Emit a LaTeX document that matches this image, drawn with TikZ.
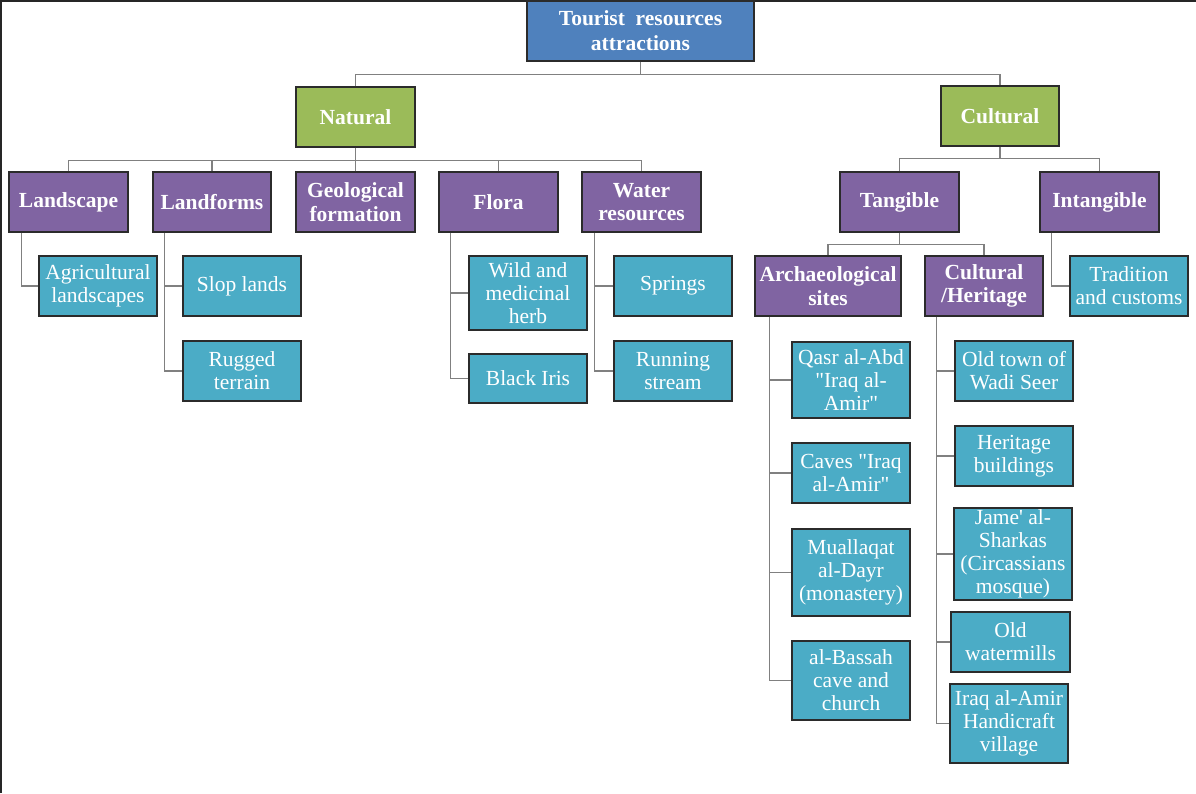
\documentclass[tikz,border=0pt]{standalone}
\usepackage{fontspec}
\setmainfont{LiberationSerif}[Extension=.ttf, UprightFont=*-Regular, BoldFont=*-Bold, ItalicFont=*-Italic, BoldItalicFont=*-BoldItalic]
\newfontfamily\plainfont{LiberationSerif}[Extension=.ttf, UprightFont=*-Regular, BoldFont=*-Bold]
\newcommand\dq{{\plainfont\char34}}
\newcommand\sq{{\plainfont\char39}}
\definecolor{cblue}{HTML}{4F81BD}
\definecolor{cgreen}{HTML}{9BBB59}
\definecolor{cpurple}{HTML}{8064A2}
\definecolor{cteal}{HTML}{4BACC6}
\definecolor{cborder}{HTML}{2B2B2B}
\definecolor{cline}{HTML}{808080}
\begin{document}
\begin{tikzpicture}[x=1pt,y=-1pt,
  box/.style={draw=cborder, line width=1.1pt, rectangle, inner sep=0pt, align=center, text=white,
    minimum width=118pt, minimum height=60pt, font=\fontsize{21.5}{23}\selectfont},
  bbox/.style={box, font=\fontsize{21.5}{23.5}\selectfont\bfseries},
  top/.style={bbox, fill=cblue, font=\fontsize{21.5}{25}\selectfont\bfseries},
  mid/.style={bbox, fill=cgreen},
  cat/.style={bbox, fill=cpurple},
  leaf/.style={box, fill=cteal},
  conn/.style={draw=cline, line width=1.2pt}
]
\path[use as bounding box] (0,0) rectangle (1196,793);
\draw[line width=2pt, draw=black!85] (1,793) -- (1,1) -- (1196,1);

% level 0-1
\node[top, minimum width=227pt] (root) at (640.5,31) {Tourist\ \ resources\\attractions};
\node[mid, minimum width=119pt] (nat) at (355.5,117) {Natural};
\node[mid] (cul) at (1000,116) {Cultural};

% natural categories
\node[cat, minimum width=119pt] (land) at (68.5,202) {Landscape};
\node[cat] (landf) at (212,202) {Landforms};
\node[cat, minimum width=119pt] (geo) at (355.5,202) {Geological\\formation};
\node[cat, minimum width=119pt] (flora) at (498.5,202) {Flora};
\node[cat, minimum width=119pt] (water) at (641.5,202) {Water\\resources};

% natural leaves
\node[leaf] (agri) at (98,286) {Agricultural\\landscapes};
\node[leaf] (slop) at (242,286) {Slop lands};
\node[leaf] (rug) at (242,371) {Rugged\\terrain};
\node[leaf, minimum height=74pt] (wild) at (528,293) {Wild and\\medicinal\\herb};
\node[leaf, minimum height=49pt] (iris) at (528,378.5) {Black Iris};
\node[leaf] (spr) at (673,286) {Springs};
\node[leaf] (run) at (673,371) {Running\\stream};

% cultural categories
\node[cat, minimum width=119pt] (tang) at (899.5,202) {Tangible};
\node[cat, minimum width=119pt] (intang) at (1099.5,202) {Intangible};
\node[cat, minimum width=146pt] (arch) at (828,286) {Archaeological\\sites};
\node[cat] (ch) at (984,286) {Cultural\\/Heritage};
\node[leaf] (trad) at (1129,286) {Tradition\\and customs};

% archaeological leaves
\node[leaf, minimum height=76pt] (qasr) at (851,380) {Qasr al-Abd\\\dq Iraq al-\\Amir\dq};
\node[leaf] (caves) at (851,473) {Caves \dq Iraq\\al-Amir\dq};
\node[leaf, minimum height=87pt] (mual) at (851,572.5) {Muallaqat\\al-Dayr\\(monastery)};
\node[leaf, minimum height=79pt] (bass) at (851,680.5) {al-Bassah\\cave and\\church};

% heritage leaves
\node[leaf] (old) at (1014,371) {Old town of\\Wadi Seer};
\node[leaf] (herit) at (1014,456) {Heritage\\buildings};
\node[leaf, minimum height=92pt] (jame) at (1013,554) {Jame\sq\ al-\\Sharkas\\(Circassians\\mosque)};
\node[leaf, minimum width=119pt] (mill) at (1010.5,642) {Old\\watermills};
\node[leaf, minimum height=79pt] (iraq) at (1009,723.5) {Iraq al-Amir\\Handicraft\\village};

% tree connectors
\draw[conn] (root.south) -- ++(0,13) coordinate (b0);
\draw[conn] (nat.north) |- (b0) -| (cul.north);
\draw[conn] (nat.south) -- ++(0,13) coordinate (b1);
\draw[conn] (land.north) |- (b1) -| (water.north);
\draw[conn] (landf.north) -- (landf.north |- b1);
\draw[conn] (geo.north) -- (b1);
\draw[conn] (flora.north) -- (flora.north |- b1);
\draw[conn] (cul.south) -- ++(0,12) coordinate (b2);
\draw[conn] (tang.north) |- (b2) -| (intang.north);
\draw[conn] (tang.south) -- ++(0,12) coordinate (b3);
\draw[conn] (arch.north) |- (b3) -| (ch.north);

% side connectors
\draw[conn] ([xshift=13pt]land.south west) |- (agri.west);
\draw[conn] ([xshift=12pt]landf.south west) |- (rug.west);
\draw[conn] ([xshift=12pt]landf.south west |- slop.west) -- (slop.west);
\draw[conn] ([xshift=12pt]flora.south west) |- (iris.west);
\draw[conn] ([xshift=12pt]flora.south west |- wild.west) -- (wild.west);
\draw[conn] ([xshift=13pt]water.south west) |- (run.west);
\draw[conn] ([xshift=13pt]water.south west |- spr.west) -- (spr.west);
\draw[conn] ([xshift=12pt]intang.south west) |- (trad.west);
\draw[conn] ([xshift=15pt]arch.south west) |- (bass.west);
\draw[conn] ([xshift=15pt]arch.south west |- qasr.west) -- (qasr.west);
\draw[conn] ([xshift=15pt]arch.south west |- caves.west) -- (caves.west);
\draw[conn] ([xshift=15pt]arch.south west |- mual.west) -- (mual.west);
\draw[conn] ([xshift=12pt]ch.south west) |- (iraq.west);
\draw[conn] ([xshift=12pt]ch.south west |- old.west) -- (old.west);
\draw[conn] ([xshift=12pt]ch.south west |- herit.west) -- (herit.west);
\draw[conn] ([xshift=12pt]ch.south west |- jame.west) -- (jame.west);
\draw[conn] ([xshift=12pt]ch.south west |- mill.west) -- (mill.west);
\end{tikzpicture}
\end{document}
